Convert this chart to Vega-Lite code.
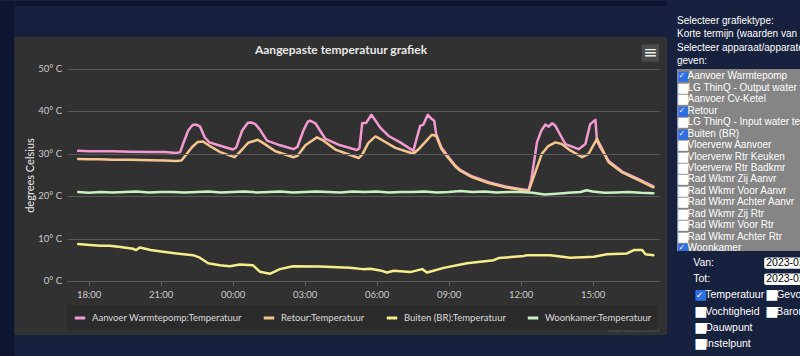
{
  "$schema": "https://vega.github.io/schema/vega-lite/v6.json",
  "background": "#16213e",
  "padding": 0,
  "spacing": 9,
  "config": {"view": {"stroke": null}},
  "hconcat": [
    {
      "width": 592,
      "height": 212,
      "title": {"text": "Aangepaste temperatuur grafiek", "anchor": "middle", "font": "Lato", "fontSize": 12, "fontWeight": "bold", "color": "#e8e8e8", "offset": -56, "dx": -22},
      "layer": [
        {
          "data": {"values": [{}]},
          "mark": {"type": "rect", "color": "#0c1631"},
          "encoding": {
            "x": {"datum": 1677161955000, "type": "temporal"},
            "x2": {"datum": 1677164055000},
            "y": {"datum": 66.04, "type": "quantitative"},
            "y2": {"datum": -17.9}
          }
        },
        {
          "data": {"values": [{}]},
          "mark": {"type": "rect", "color": "#0c1631"},
          "encoding": {
            "x": {"datum": 1677164055000, "type": "temporal"},
            "x2": {"datum": 1677262005000},
            "y": {"datum": 66.04, "type": "quantitative"},
            "y2": {"datum": 64.86}
          }
        },
        {
          "data": {"values": [{}]},
          "mark": {"type": "rect", "color": "#313131"},
          "encoding": {
            "x": {"datum": 1677164055000, "type": "temporal"},
            "x2": {"datum": 1677262005000},
            "y": {"datum": 57.55, "type": "quantitative"},
            "y2": {"datum": -12.74}
          }
        },
        {
          "data": {"values": [{}]},
          "mark": {"type": "point", "shape": "square", "filled": true, "size": 300, "color": "#4b4b4b", "opacity": 1},
          "encoding": {
            "x": {"datum": 1677259455000, "type": "temporal"},
            "y": {"datum": 53.77, "type": "quantitative"}
          }
        },
        {
          "data": {"values": [{}]},
          "mark": {"type": "text", "text": "≡", "font": "DejaVu Sans", "fontSize": 17, "color": "#f0f0f0", "align": "center", "baseline": "middle"},
          "encoding": {
            "x": {"datum": 1677259455000, "type": "temporal"},
            "y": {"datum": 53.77, "type": "quantitative"}
          }
        },
        {
          "data": {"values": [{}]},
          "mark": {"type": "text", "text": "Domoticz.com", "font": "Lato", "fontSize": 8, "color": "#5a5a5a", "align": "right", "baseline": "middle"},
          "encoding": {
            "x": {"datum": 1677260760000, "type": "temporal"},
            "y": {"datum": -11.56, "type": "quantitative"}
          }
        },
        {
          "data": {"values": [
            {"waarde": 0, "label": "0° C"},
            {"waarde": 10, "label": "10° C"},
            {"waarde": 20, "label": "20° C"},
            {"waarde": 30, "label": "30° C"},
            {"waarde": 40, "label": "40° C"},
            {"waarde": 50, "label": "50° C"}
          ]},
          "mark": {"type": "text", "align": "right", "baseline": "middle", "dx": -5, "font": "Lato", "fontSize": 9.5, "color": "#cccccc"},
          "encoding": {
            "x": {"datum": 1677171960000, "type": "temporal"},
            "y": {"field": "waarde", "type": "quantitative"},
            "text": {"field": "label"}
          }
        },
        {
          "data": {"values": [
            {"serie": "Aanvoer Warmtepomp:Temperatuur", "tijd": "2023-02-23T17:34Z", "temperatuur": 30.7},
            {"serie": "Aanvoer Warmtepomp:Temperatuur", "tijd": "2023-02-23T18:00Z", "temperatuur": 30.6},
            {"serie": "Aanvoer Warmtepomp:Temperatuur", "tijd": "2023-02-23T18:29Z", "temperatuur": 30.6},
            {"serie": "Aanvoer Warmtepomp:Temperatuur", "tijd": "2023-02-23T19:00Z", "temperatuur": 30.6},
            {"serie": "Aanvoer Warmtepomp:Temperatuur", "tijd": "2023-02-23T19:44Z", "temperatuur": 30.5},
            {"serie": "Aanvoer Warmtepomp:Temperatuur", "tijd": "2023-02-23T20:34Z", "temperatuur": 30.4},
            {"serie": "Aanvoer Warmtepomp:Temperatuur", "tijd": "2023-02-23T21:10Z", "temperatuur": 30.4},
            {"serie": "Aanvoer Warmtepomp:Temperatuur", "tijd": "2023-02-23T21:39Z", "temperatuur": 30.2},
            {"serie": "Aanvoer Warmtepomp:Temperatuur", "tijd": "2023-02-23T21:49Z", "temperatuur": 30.4},
            {"serie": "Aanvoer Warmtepomp:Temperatuur", "tijd": "2023-02-23T21:56Z", "temperatuur": 32.3},
            {"serie": "Aanvoer Warmtepomp:Temperatuur", "tijd": "2023-02-23T22:09Z", "temperatuur": 35.5},
            {"serie": "Aanvoer Warmtepomp:Temperatuur", "tijd": "2023-02-23T22:20Z", "temperatuur": 36.8},
            {"serie": "Aanvoer Warmtepomp:Temperatuur", "tijd": "2023-02-23T22:29Z", "temperatuur": 36.9},
            {"serie": "Aanvoer Warmtepomp:Temperatuur", "tijd": "2023-02-23T22:39Z", "temperatuur": 36.4},
            {"serie": "Aanvoer Warmtepomp:Temperatuur", "tijd": "2023-02-23T22:50Z", "temperatuur": 33.9},
            {"serie": "Aanvoer Warmtepomp:Temperatuur", "tijd": "2023-02-23T23:02Z", "temperatuur": 32.7},
            {"serie": "Aanvoer Warmtepomp:Temperatuur", "tijd": "2023-02-23T23:29Z", "temperatuur": 31.9},
            {"serie": "Aanvoer Warmtepomp:Temperatuur", "tijd": "2023-02-24T00:01Z", "temperatuur": 31.0},
            {"serie": "Aanvoer Warmtepomp:Temperatuur", "tijd": "2023-02-24T00:09Z", "temperatuur": 31.5},
            {"serie": "Aanvoer Warmtepomp:Temperatuur", "tijd": "2023-02-24T00:24Z", "temperatuur": 35.5},
            {"serie": "Aanvoer Warmtepomp:Temperatuur", "tijd": "2023-02-24T00:38Z", "temperatuur": 37.3},
            {"serie": "Aanvoer Warmtepomp:Temperatuur", "tijd": "2023-02-24T00:47Z", "temperatuur": 37.4},
            {"serie": "Aanvoer Warmtepomp:Temperatuur", "tijd": "2023-02-24T00:57Z", "temperatuur": 37.0},
            {"serie": "Aanvoer Warmtepomp:Temperatuur", "tijd": "2023-02-24T01:09Z", "temperatuur": 35.6},
            {"serie": "Aanvoer Warmtepomp:Temperatuur", "tijd": "2023-02-24T01:26Z", "temperatuur": 33.1},
            {"serie": "Aanvoer Warmtepomp:Temperatuur", "tijd": "2023-02-24T01:59Z", "temperatuur": 32.0},
            {"serie": "Aanvoer Warmtepomp:Temperatuur", "tijd": "2023-02-24T02:32Z", "temperatuur": 31.1},
            {"serie": "Aanvoer Warmtepomp:Temperatuur", "tijd": "2023-02-24T02:42Z", "temperatuur": 31.6},
            {"serie": "Aanvoer Warmtepomp:Temperatuur", "tijd": "2023-02-24T02:57Z", "temperatuur": 35.5},
            {"serie": "Aanvoer Warmtepomp:Temperatuur", "tijd": "2023-02-24T03:08Z", "temperatuur": 37.6},
            {"serie": "Aanvoer Warmtepomp:Temperatuur", "tijd": "2023-02-24T03:14Z", "temperatuur": 37.8},
            {"serie": "Aanvoer Warmtepomp:Temperatuur", "tijd": "2023-02-24T03:27Z", "temperatuur": 37.2},
            {"serie": "Aanvoer Warmtepomp:Temperatuur", "tijd": "2023-02-24T03:52Z", "temperatuur": 33.5},
            {"serie": "Aanvoer Warmtepomp:Temperatuur", "tijd": "2023-02-24T04:29Z", "temperatuur": 32.0},
            {"serie": "Aanvoer Warmtepomp:Temperatuur", "tijd": "2023-02-24T05:11Z", "temperatuur": 30.9},
            {"serie": "Aanvoer Warmtepomp:Temperatuur", "tijd": "2023-02-24T05:17Z", "temperatuur": 31.3},
            {"serie": "Aanvoer Warmtepomp:Temperatuur", "tijd": "2023-02-24T05:24Z", "temperatuur": 37.2},
            {"serie": "Aanvoer Warmtepomp:Temperatuur", "tijd": "2023-02-24T05:34Z", "temperatuur": 37.3},
            {"serie": "Aanvoer Warmtepomp:Temperatuur", "tijd": "2023-02-24T05:47Z", "temperatuur": 39.2},
            {"serie": "Aanvoer Warmtepomp:Temperatuur", "tijd": "2023-02-24T06:09Z", "temperatuur": 36.2},
            {"serie": "Aanvoer Warmtepomp:Temperatuur", "tijd": "2023-02-24T06:30Z", "temperatuur": 34.2},
            {"serie": "Aanvoer Warmtepomp:Temperatuur", "tijd": "2023-02-24T06:59Z", "temperatuur": 32.7},
            {"serie": "Aanvoer Warmtepomp:Temperatuur", "tijd": "2023-02-24T07:32Z", "temperatuur": 30.7},
            {"serie": "Aanvoer Warmtepomp:Temperatuur", "tijd": "2023-02-24T07:41Z", "temperatuur": 33.9},
            {"serie": "Aanvoer Warmtepomp:Temperatuur", "tijd": "2023-02-24T07:49Z", "temperatuur": 36.6},
            {"serie": "Aanvoer Warmtepomp:Temperatuur", "tijd": "2023-02-24T07:57Z", "temperatuur": 36.9},
            {"serie": "Aanvoer Warmtepomp:Temperatuur", "tijd": "2023-02-24T08:08Z", "temperatuur": 39.2},
            {"serie": "Aanvoer Warmtepomp:Temperatuur", "tijd": "2023-02-24T08:18Z", "temperatuur": 38.2},
            {"serie": "Aanvoer Warmtepomp:Temperatuur", "tijd": "2023-02-24T08:24Z", "temperatuur": 37.8},
            {"serie": "Aanvoer Warmtepomp:Temperatuur", "tijd": "2023-02-24T08:29Z", "temperatuur": 34.6},
            {"serie": "Aanvoer Warmtepomp:Temperatuur", "tijd": "2023-02-24T08:42Z", "temperatuur": 31.5},
            {"serie": "Aanvoer Warmtepomp:Temperatuur", "tijd": "2023-02-24T08:56Z", "temperatuur": 29.7},
            {"serie": "Aanvoer Warmtepomp:Temperatuur", "tijd": "2023-02-24T09:17Z", "temperatuur": 27.2},
            {"serie": "Aanvoer Warmtepomp:Temperatuur", "tijd": "2023-02-24T09:29Z", "temperatuur": 26.2},
            {"serie": "Aanvoer Warmtepomp:Temperatuur", "tijd": "2023-02-24T09:58Z", "temperatuur": 24.7},
            {"serie": "Aanvoer Warmtepomp:Temperatuur", "tijd": "2023-02-24T10:40Z", "temperatuur": 23.3},
            {"serie": "Aanvoer Warmtepomp:Temperatuur", "tijd": "2023-02-24T11:22Z", "temperatuur": 22.3},
            {"serie": "Aanvoer Warmtepomp:Temperatuur", "tijd": "2023-02-24T11:59Z", "temperatuur": 21.7},
            {"serie": "Aanvoer Warmtepomp:Temperatuur", "tijd": "2023-02-24T12:20Z", "temperatuur": 21.4},
            {"serie": "Aanvoer Warmtepomp:Temperatuur", "tijd": "2023-02-24T12:27Z", "temperatuur": 24.0},
            {"serie": "Aanvoer Warmtepomp:Temperatuur", "tijd": "2023-02-24T12:41Z", "temperatuur": 32.7},
            {"serie": "Aanvoer Warmtepomp:Temperatuur", "tijd": "2023-02-24T12:52Z", "temperatuur": 35.5},
            {"serie": "Aanvoer Warmtepomp:Temperatuur", "tijd": "2023-02-24T13:02Z", "temperatuur": 36.9},
            {"serie": "Aanvoer Warmtepomp:Temperatuur", "tijd": "2023-02-24T13:10Z", "temperatuur": 36.4},
            {"serie": "Aanvoer Warmtepomp:Temperatuur", "tijd": "2023-02-24T13:19Z", "temperatuur": 37.2},
            {"serie": "Aanvoer Warmtepomp:Temperatuur", "tijd": "2023-02-24T13:27Z", "temperatuur": 36.6},
            {"serie": "Aanvoer Warmtepomp:Temperatuur", "tijd": "2023-02-24T13:39Z", "temperatuur": 34.5},
            {"serie": "Aanvoer Warmtepomp:Temperatuur", "tijd": "2023-02-24T13:52Z", "temperatuur": 32.3},
            {"serie": "Aanvoer Warmtepomp:Temperatuur", "tijd": "2023-02-24T14:25Z", "temperatuur": 31.1},
            {"serie": "Aanvoer Warmtepomp:Temperatuur", "tijd": "2023-02-24T14:42Z", "temperatuur": 32.3},
            {"serie": "Aanvoer Warmtepomp:Temperatuur", "tijd": "2023-02-24T14:54Z", "temperatuur": 37.0},
            {"serie": "Aanvoer Warmtepomp:Temperatuur", "tijd": "2023-02-24T15:07Z", "temperatuur": 38.0},
            {"serie": "Aanvoer Warmtepomp:Temperatuur", "tijd": "2023-02-24T15:11Z", "temperatuur": 33.1},
            {"serie": "Aanvoer Warmtepomp:Temperatuur", "tijd": "2023-02-24T15:19Z", "temperatuur": 31.5},
            {"serie": "Aanvoer Warmtepomp:Temperatuur", "tijd": "2023-02-24T15:40Z", "temperatuur": 28.3},
            {"serie": "Aanvoer Warmtepomp:Temperatuur", "tijd": "2023-02-24T16:14Z", "temperatuur": 25.8},
            {"serie": "Aanvoer Warmtepomp:Temperatuur", "tijd": "2023-02-24T16:55Z", "temperatuur": 24.0},
            {"serie": "Aanvoer Warmtepomp:Temperatuur", "tijd": "2023-02-24T17:32Z", "temperatuur": 22.3},
            {"serie": "Retour:Temperatuur", "tijd": "2023-02-23T17:34Z", "temperatuur": 28.8},
            {"serie": "Retour:Temperatuur", "tijd": "2023-02-23T18:00Z", "temperatuur": 28.7},
            {"serie": "Retour:Temperatuur", "tijd": "2023-02-23T18:29Z", "temperatuur": 28.7},
            {"serie": "Retour:Temperatuur", "tijd": "2023-02-23T19:00Z", "temperatuur": 28.6},
            {"serie": "Retour:Temperatuur", "tijd": "2023-02-23T19:44Z", "temperatuur": 28.6},
            {"serie": "Retour:Temperatuur", "tijd": "2023-02-23T20:34Z", "temperatuur": 28.5},
            {"serie": "Retour:Temperatuur", "tijd": "2023-02-23T21:10Z", "temperatuur": 28.4},
            {"serie": "Retour:Temperatuur", "tijd": "2023-02-23T21:39Z", "temperatuur": 28.3},
            {"serie": "Retour:Temperatuur", "tijd": "2023-02-23T21:52Z", "temperatuur": 28.4},
            {"serie": "Retour:Temperatuur", "tijd": "2023-02-23T22:04Z", "temperatuur": 29.8},
            {"serie": "Retour:Temperatuur", "tijd": "2023-02-23T22:19Z", "temperatuur": 31.6},
            {"serie": "Retour:Temperatuur", "tijd": "2023-02-23T22:33Z", "temperatuur": 32.8},
            {"serie": "Retour:Temperatuur", "tijd": "2023-02-23T22:46Z", "temperatuur": 32.9},
            {"serie": "Retour:Temperatuur", "tijd": "2023-02-23T23:02Z", "temperatuur": 31.9},
            {"serie": "Retour:Temperatuur", "tijd": "2023-02-23T23:29Z", "temperatuur": 30.4},
            {"serie": "Retour:Temperatuur", "tijd": "2023-02-24T00:05Z", "temperatuur": 29.2},
            {"serie": "Retour:Temperatuur", "tijd": "2023-02-24T00:19Z", "temperatuur": 30.5},
            {"serie": "Retour:Temperatuur", "tijd": "2023-02-24T00:39Z", "temperatuur": 32.6},
            {"serie": "Retour:Temperatuur", "tijd": "2023-02-24T01:03Z", "temperatuur": 33.3},
            {"serie": "Retour:Temperatuur", "tijd": "2023-02-24T01:14Z", "temperatuur": 32.7},
            {"serie": "Retour:Temperatuur", "tijd": "2023-02-24T01:47Z", "temperatuur": 30.6},
            {"serie": "Retour:Temperatuur", "tijd": "2023-02-24T02:32Z", "temperatuur": 29.2},
            {"serie": "Retour:Temperatuur", "tijd": "2023-02-24T02:42Z", "temperatuur": 29.5},
            {"serie": "Retour:Temperatuur", "tijd": "2023-02-24T03:02Z", "temperatuur": 32.0},
            {"serie": "Retour:Temperatuur", "tijd": "2023-02-24T03:31Z", "temperatuur": 33.9},
            {"serie": "Retour:Temperatuur", "tijd": "2023-02-24T03:44Z", "temperatuur": 33.3},
            {"serie": "Retour:Temperatuur", "tijd": "2023-02-24T04:17Z", "temperatuur": 31.0},
            {"serie": "Retour:Temperatuur", "tijd": "2023-02-24T05:15Z", "temperatuur": 29.0},
            {"serie": "Retour:Temperatuur", "tijd": "2023-02-24T05:24Z", "temperatuur": 29.8},
            {"serie": "Retour:Temperatuur", "tijd": "2023-02-24T05:39Z", "temperatuur": 32.5},
            {"serie": "Retour:Temperatuur", "tijd": "2023-02-24T05:57Z", "temperatuur": 34.1},
            {"serie": "Retour:Temperatuur", "tijd": "2023-02-24T06:09Z", "temperatuur": 33.5},
            {"serie": "Retour:Temperatuur", "tijd": "2023-02-24T06:47Z", "temperatuur": 31.4},
            {"serie": "Retour:Temperatuur", "tijd": "2023-02-24T07:32Z", "temperatuur": 30.0},
            {"serie": "Retour:Temperatuur", "tijd": "2023-02-24T07:44Z", "temperatuur": 31.0},
            {"serie": "Retour:Temperatuur", "tijd": "2023-02-24T08:02Z", "temperatuur": 32.8},
            {"serie": "Retour:Temperatuur", "tijd": "2023-02-24T08:18Z", "temperatuur": 34.5},
            {"serie": "Retour:Temperatuur", "tijd": "2023-02-24T08:29Z", "temperatuur": 34.2},
            {"serie": "Retour:Temperatuur", "tijd": "2023-02-24T08:42Z", "temperatuur": 31.2},
            {"serie": "Retour:Temperatuur", "tijd": "2023-02-24T08:56Z", "temperatuur": 29.4},
            {"serie": "Retour:Temperatuur", "tijd": "2023-02-24T09:17Z", "temperatuur": 27.0},
            {"serie": "Retour:Temperatuur", "tijd": "2023-02-24T09:29Z", "temperatuur": 26.0},
            {"serie": "Retour:Temperatuur", "tijd": "2023-02-24T09:58Z", "temperatuur": 24.5},
            {"serie": "Retour:Temperatuur", "tijd": "2023-02-24T10:40Z", "temperatuur": 23.1},
            {"serie": "Retour:Temperatuur", "tijd": "2023-02-24T11:22Z", "temperatuur": 22.1},
            {"serie": "Retour:Temperatuur", "tijd": "2023-02-24T11:59Z", "temperatuur": 21.5},
            {"serie": "Retour:Temperatuur", "tijd": "2023-02-24T12:20Z", "temperatuur": 21.2},
            {"serie": "Retour:Temperatuur", "tijd": "2023-02-24T12:32Z", "temperatuur": 24.4},
            {"serie": "Retour:Temperatuur", "tijd": "2023-02-24T12:53Z", "temperatuur": 30.0},
            {"serie": "Retour:Temperatuur", "tijd": "2023-02-24T13:09Z", "temperatuur": 31.8},
            {"serie": "Retour:Temperatuur", "tijd": "2023-02-24T13:27Z", "temperatuur": 32.7},
            {"serie": "Retour:Temperatuur", "tijd": "2023-02-24T13:43Z", "temperatuur": 32.3},
            {"serie": "Retour:Temperatuur", "tijd": "2023-02-24T14:04Z", "temperatuur": 30.8},
            {"serie": "Retour:Temperatuur", "tijd": "2023-02-24T14:34Z", "temperatuur": 29.2},
            {"serie": "Retour:Temperatuur", "tijd": "2023-02-24T14:50Z", "temperatuur": 30.0},
            {"serie": "Retour:Temperatuur", "tijd": "2023-02-24T14:59Z", "temperatuur": 31.5},
            {"serie": "Retour:Temperatuur", "tijd": "2023-02-24T15:11Z", "temperatuur": 33.5},
            {"serie": "Retour:Temperatuur", "tijd": "2023-02-24T15:24Z", "temperatuur": 31.1},
            {"serie": "Retour:Temperatuur", "tijd": "2023-02-24T15:40Z", "temperatuur": 28.0},
            {"serie": "Retour:Temperatuur", "tijd": "2023-02-24T16:14Z", "temperatuur": 25.6},
            {"serie": "Retour:Temperatuur", "tijd": "2023-02-24T16:55Z", "temperatuur": 23.8},
            {"serie": "Retour:Temperatuur", "tijd": "2023-02-24T17:32Z", "temperatuur": 22.1},
            {"serie": "Buiten (BR):Temperatuur", "tijd": "2023-02-23T17:34Z", "temperatuur": 8.7},
            {"serie": "Buiten (BR):Temperatuur", "tijd": "2023-02-23T18:03Z", "temperatuur": 8.5},
            {"serie": "Buiten (BR):Temperatuur", "tijd": "2023-02-23T18:30Z", "temperatuur": 8.3},
            {"serie": "Buiten (BR):Temperatuur", "tijd": "2023-02-23T18:52Z", "temperatuur": 8.3},
            {"serie": "Buiten (BR):Temperatuur", "tijd": "2023-02-23T19:20Z", "temperatuur": 8.0},
            {"serie": "Buiten (BR):Temperatuur", "tijd": "2023-02-23T19:51Z", "temperatuur": 7.6},
            {"serie": "Buiten (BR):Temperatuur", "tijd": "2023-02-23T19:59Z", "temperatuur": 7.3},
            {"serie": "Buiten (BR):Temperatuur", "tijd": "2023-02-23T20:08Z", "temperatuur": 7.9},
            {"serie": "Buiten (BR):Temperatuur", "tijd": "2023-02-23T20:35Z", "temperatuur": 7.3},
            {"serie": "Buiten (BR):Temperatuur", "tijd": "2023-02-23T21:06Z", "temperatuur": 6.9},
            {"serie": "Buiten (BR):Temperatuur", "tijd": "2023-02-23T21:40Z", "temperatuur": 6.5},
            {"serie": "Buiten (BR):Temperatuur", "tijd": "2023-02-23T22:21Z", "temperatuur": 6.1},
            {"serie": "Buiten (BR):Temperatuur", "tijd": "2023-02-23T22:38Z", "temperatuur": 5.5},
            {"serie": "Buiten (BR):Temperatuur", "tijd": "2023-02-23T22:59Z", "temperatuur": 4.2},
            {"serie": "Buiten (BR):Temperatuur", "tijd": "2023-02-23T23:28Z", "temperatuur": 3.7},
            {"serie": "Buiten (BR):Temperatuur", "tijd": "2023-02-23T23:53Z", "temperatuur": 3.5},
            {"serie": "Buiten (BR):Temperatuur", "tijd": "2023-02-24T00:18Z", "temperatuur": 3.9},
            {"serie": "Buiten (BR):Temperatuur", "tijd": "2023-02-24T00:51Z", "temperatuur": 3.7},
            {"serie": "Buiten (BR):Temperatuur", "tijd": "2023-02-24T01:08Z", "temperatuur": 2.2},
            {"serie": "Buiten (BR):Temperatuur", "tijd": "2023-02-24T01:33Z", "temperatuur": 1.7},
            {"serie": "Buiten (BR):Temperatuur", "tijd": "2023-02-24T01:58Z", "temperatuur": 2.8},
            {"serie": "Buiten (BR):Temperatuur", "tijd": "2023-02-24T02:31Z", "temperatuur": 3.5},
            {"serie": "Buiten (BR):Temperatuur", "tijd": "2023-02-24T03:38Z", "temperatuur": 3.4},
            {"serie": "Buiten (BR):Temperatuur", "tijd": "2023-02-24T04:53Z", "temperatuur": 3.1},
            {"serie": "Buiten (BR):Temperatuur", "tijd": "2023-02-24T05:26Z", "temperatuur": 2.8},
            {"serie": "Buiten (BR):Temperatuur", "tijd": "2023-02-24T05:44Z", "temperatuur": 2.9},
            {"serie": "Buiten (BR):Temperatuur", "tijd": "2023-02-24T06:09Z", "temperatuur": 2.5},
            {"serie": "Buiten (BR):Temperatuur", "tijd": "2023-02-24T06:26Z", "temperatuur": 2.0},
            {"serie": "Buiten (BR):Temperatuur", "tijd": "2023-02-24T06:43Z", "temperatuur": 2.4},
            {"serie": "Buiten (BR):Temperatuur", "tijd": "2023-02-24T07:24Z", "temperatuur": 2.1},
            {"serie": "Buiten (BR):Temperatuur", "tijd": "2023-02-24T07:54Z", "temperatuur": 2.8},
            {"serie": "Buiten (BR):Temperatuur", "tijd": "2023-02-24T08:06Z", "temperatuur": 2.0},
            {"serie": "Buiten (BR):Temperatuur", "tijd": "2023-02-24T08:48Z", "temperatuur": 3.1},
            {"serie": "Buiten (BR):Temperatuur", "tijd": "2023-02-24T09:46Z", "temperatuur": 4.2},
            {"serie": "Buiten (BR):Temperatuur", "tijd": "2023-02-24T10:53Z", "temperatuur": 4.9},
            {"serie": "Buiten (BR):Temperatuur", "tijd": "2023-02-24T11:05Z", "temperatuur": 5.4},
            {"serie": "Buiten (BR):Temperatuur", "tijd": "2023-02-24T12:08Z", "temperatuur": 5.9},
            {"serie": "Buiten (BR):Temperatuur", "tijd": "2023-02-24T12:16Z", "temperatuur": 6.1},
            {"serie": "Buiten (BR):Temperatuur", "tijd": "2023-02-24T13:14Z", "temperatuur": 6.1},
            {"serie": "Buiten (BR):Temperatuur", "tijd": "2023-02-24T14:04Z", "temperatuur": 5.5},
            {"serie": "Buiten (BR):Temperatuur", "tijd": "2023-02-24T15:03Z", "temperatuur": 5.7},
            {"serie": "Buiten (BR):Temperatuur", "tijd": "2023-02-24T15:36Z", "temperatuur": 6.3},
            {"serie": "Buiten (BR):Temperatuur", "tijd": "2023-02-24T16:26Z", "temperatuur": 6.5},
            {"serie": "Buiten (BR):Temperatuur", "tijd": "2023-02-24T16:43Z", "temperatuur": 7.3},
            {"serie": "Buiten (BR):Temperatuur", "tijd": "2023-02-24T17:04Z", "temperatuur": 7.3},
            {"serie": "Buiten (BR):Temperatuur", "tijd": "2023-02-24T17:12Z", "temperatuur": 6.3},
            {"serie": "Buiten (BR):Temperatuur", "tijd": "2023-02-24T17:32Z", "temperatuur": 6.1},
            {"serie": "Woonkamer:Temperatuur", "tijd": "2023-02-23T17:34Z", "temperatuur": 21.0},
            {"serie": "Woonkamer:Temperatuur", "tijd": "2023-02-23T18:00Z", "temperatuur": 20.8},
            {"serie": "Woonkamer:Temperatuur", "tijd": "2023-02-23T18:30Z", "temperatuur": 21.0},
            {"serie": "Woonkamer:Temperatuur", "tijd": "2023-02-23T19:00Z", "temperatuur": 20.9},
            {"serie": "Woonkamer:Temperatuur", "tijd": "2023-02-23T19:30Z", "temperatuur": 21.0},
            {"serie": "Woonkamer:Temperatuur", "tijd": "2023-02-23T20:00Z", "temperatuur": 21.1},
            {"serie": "Woonkamer:Temperatuur", "tijd": "2023-02-23T20:30Z", "temperatuur": 20.9},
            {"serie": "Woonkamer:Temperatuur", "tijd": "2023-02-23T21:00Z", "temperatuur": 21.0},
            {"serie": "Woonkamer:Temperatuur", "tijd": "2023-02-23T21:30Z", "temperatuur": 21.0},
            {"serie": "Woonkamer:Temperatuur", "tijd": "2023-02-23T22:00Z", "temperatuur": 20.9},
            {"serie": "Woonkamer:Temperatuur", "tijd": "2023-02-23T22:30Z", "temperatuur": 21.0},
            {"serie": "Woonkamer:Temperatuur", "tijd": "2023-02-23T23:00Z", "temperatuur": 21.1},
            {"serie": "Woonkamer:Temperatuur", "tijd": "2023-02-23T23:30Z", "temperatuur": 20.9},
            {"serie": "Woonkamer:Temperatuur", "tijd": "2023-02-24T00:00Z", "temperatuur": 21.0},
            {"serie": "Woonkamer:Temperatuur", "tijd": "2023-02-24T00:30Z", "temperatuur": 21.1},
            {"serie": "Woonkamer:Temperatuur", "tijd": "2023-02-24T01:00Z", "temperatuur": 20.9},
            {"serie": "Woonkamer:Temperatuur", "tijd": "2023-02-24T01:30Z", "temperatuur": 21.0},
            {"serie": "Woonkamer:Temperatuur", "tijd": "2023-02-24T02:00Z", "temperatuur": 21.1},
            {"serie": "Woonkamer:Temperatuur", "tijd": "2023-02-24T02:30Z", "temperatuur": 20.9},
            {"serie": "Woonkamer:Temperatuur", "tijd": "2023-02-24T03:00Z", "temperatuur": 21.0},
            {"serie": "Woonkamer:Temperatuur", "tijd": "2023-02-24T03:30Z", "temperatuur": 21.1},
            {"serie": "Woonkamer:Temperatuur", "tijd": "2023-02-24T04:00Z", "temperatuur": 21.0},
            {"serie": "Woonkamer:Temperatuur", "tijd": "2023-02-24T04:30Z", "temperatuur": 20.9},
            {"serie": "Woonkamer:Temperatuur", "tijd": "2023-02-24T05:00Z", "temperatuur": 21.1},
            {"serie": "Woonkamer:Temperatuur", "tijd": "2023-02-24T05:30Z", "temperatuur": 21.0},
            {"serie": "Woonkamer:Temperatuur", "tijd": "2023-02-24T06:00Z", "temperatuur": 21.1},
            {"serie": "Woonkamer:Temperatuur", "tijd": "2023-02-24T06:30Z", "temperatuur": 20.9},
            {"serie": "Woonkamer:Temperatuur", "tijd": "2023-02-24T07:00Z", "temperatuur": 21.0},
            {"serie": "Woonkamer:Temperatuur", "tijd": "2023-02-24T07:30Z", "temperatuur": 21.0},
            {"serie": "Woonkamer:Temperatuur", "tijd": "2023-02-24T08:00Z", "temperatuur": 21.1},
            {"serie": "Woonkamer:Temperatuur", "tijd": "2023-02-24T08:30Z", "temperatuur": 20.9},
            {"serie": "Woonkamer:Temperatuur", "tijd": "2023-02-24T09:00Z", "temperatuur": 21.0},
            {"serie": "Woonkamer:Temperatuur", "tijd": "2023-02-24T09:30Z", "temperatuur": 21.2},
            {"serie": "Woonkamer:Temperatuur", "tijd": "2023-02-24T10:00Z", "temperatuur": 21.0},
            {"serie": "Woonkamer:Temperatuur", "tijd": "2023-02-24T10:30Z", "temperatuur": 21.1},
            {"serie": "Woonkamer:Temperatuur", "tijd": "2023-02-24T11:00Z", "temperatuur": 20.9},
            {"serie": "Woonkamer:Temperatuur", "tijd": "2023-02-24T11:30Z", "temperatuur": 21.0},
            {"serie": "Woonkamer:Temperatuur", "tijd": "2023-02-24T12:00Z", "temperatuur": 21.0},
            {"serie": "Woonkamer:Temperatuur", "tijd": "2023-02-24T12:30Z", "temperatuur": 20.8},
            {"serie": "Woonkamer:Temperatuur", "tijd": "2023-02-24T13:00Z", "temperatuur": 20.4},
            {"serie": "Woonkamer:Temperatuur", "tijd": "2023-02-24T13:30Z", "temperatuur": 20.6},
            {"serie": "Woonkamer:Temperatuur", "tijd": "2023-02-24T14:00Z", "temperatuur": 20.8},
            {"serie": "Woonkamer:Temperatuur", "tijd": "2023-02-24T14:30Z", "temperatuur": 21.0},
            {"serie": "Woonkamer:Temperatuur", "tijd": "2023-02-24T14:45Z", "temperatuur": 21.4},
            {"serie": "Woonkamer:Temperatuur", "tijd": "2023-02-24T15:00Z", "temperatuur": 21.1},
            {"serie": "Woonkamer:Temperatuur", "tijd": "2023-02-24T15:30Z", "temperatuur": 20.8},
            {"serie": "Woonkamer:Temperatuur", "tijd": "2023-02-24T16:00Z", "temperatuur": 20.9},
            {"serie": "Woonkamer:Temperatuur", "tijd": "2023-02-24T16:30Z", "temperatuur": 21.0},
            {"serie": "Woonkamer:Temperatuur", "tijd": "2023-02-24T17:00Z", "temperatuur": 20.8},
            {"serie": "Woonkamer:Temperatuur", "tijd": "2023-02-24T17:32Z", "temperatuur": 20.7}
          ]},
          "mark": {"type": "line", "strokeWidth": 2.5, "strokeJoin": "round", "strokeCap": "round"},
          "encoding": {
            "x": {
              "field": "tijd", "type": "temporal",
              "scale": {"type": "utc", "domain": [1677171960000, 1677260760000]},
              "axis": {"title": null, "grid": false, "tickCount": 8, "format": "%H:%M", "domainColor": "#5c5c5c", "tickColor": "#5c5c5c", "tickSize": 5, "labelPadding": 3, "labelColor": "#cccccc", "labelFont": "Lato", "labelFontSize": 9.5, "labelFlush": false, "zindex": 1}
            },
            "y": {
              "field": "temperatuur", "type": "quantitative",
              "scale": {"domain": [0, 50], "nice": false, "zero": false},
              "axis": {"title": "degrees Celsius", "values": [0, 10, 20, 30, 40, 50], "labels": false, "ticks": false, "domain": false, "grid": true, "gridColor": "#585858", "titleFont": "Lato", "titleFontSize": 11, "titleFontWeight": "normal", "titleColor": "#e8e8e8", "titlePadding": 32, "zindex": 1}
            },
            "color": {
              "field": "serie", "type": "nominal",
              "scale": {"domain": ["Aanvoer Warmtepomp:Temperatuur", "Retour:Temperatuur", "Buiten (BR):Temperatuur", "Woonkamer:Temperatuur"], "range": ["#f49ad3", "#f5c58e", "#f5ee8a", "#c8f2c0"]},
              "legend": {"title": null, "orient": "bottom", "direction": "horizontal", "symbolType": "stroke", "symbolStrokeWidth": 3, "symbolSize": 110, "labelFont": "Lato", "labelFontSize": 9.5, "labelColor": "#dcdcdc", "fillColor": "#2b2b2b", "padding": 6, "columnPadding": 15, "offset": -52, "labelOffset": 5, "labelLimit": 400}
            }
          }
        }
      ]
    },
    {
      "spacing": 4,
      "vconcat": [
        {
          "width": 160,
          "height": 182,
          "view": {"fill": "#858585", "stroke": null},
          "title": {"text": ["Selecteer grafiektype:", "Korte termijn (waarden van", "Selecteer apparaat/apparaten om weer te", "geven:"], "anchor": "start", "frame": "group", "font": "Liberation Sans", "fontSize": 10, "fontWeight": "normal", "color": "#ffffff", "lineHeight": 13.3, "offset": 3},
          "data": {"values": [
            {"apparaat": "Aanvoer Warmtepomp", "aan": true},
            {"apparaat": "LG ThinQ - Output water temperatuur", "aan": false},
            {"apparaat": "Aanvoer Cv-Ketel", "aan": false},
            {"apparaat": "Retour", "aan": true},
            {"apparaat": "LG ThinQ - Input water temperatuur", "aan": false},
            {"apparaat": "Buiten (BR)", "aan": true},
            {"apparaat": "Vloerverw Aanvoer", "aan": false},
            {"apparaat": "Vloerverw Rtr Keuken", "aan": false},
            {"apparaat": "Vloerverw Rtr Badkmr", "aan": false},
            {"apparaat": "Rad Wkmr Zij Aanvr", "aan": false},
            {"apparaat": "Rad Wkmr Voor Aanvr", "aan": false},
            {"apparaat": "Rad Wkmr Achter Aanvr", "aan": false},
            {"apparaat": "Rad Wkmr Zij Rtr", "aan": false},
            {"apparaat": "Rad Wkmr Voor Rtr", "aan": false},
            {"apparaat": "Rad Wkmr Achter Rtr", "aan": false},
            {"apparaat": "Woonkamer", "aan": true}
          ]},
          "encoding": {
            "y": {"field": "apparaat", "type": "ordinal", "sort": null, "axis": null, "scale": {"type": "point", "padding": 0.4476, "align": 0.722}},
            "x": {"datum": 0, "type": "quantitative", "scale": {"domain": [0, 1]}, "axis": null}
          },
          "layer": [
            {"mark": {"type": "text", "text": "■", "align": "left", "baseline": "middle", "font": "DejaVu Sans", "fontSize": 13, "dx": 0, "clip": true},
             "encoding": {"color": {"condition": {"test": "datum.aan", "value": "#2f6fe4"}, "value": "#ffffff"}}},
            {"transform": [{"filter": "datum.aan"}],
             "mark": {"type": "text", "text": "✓", "align": "left", "baseline": "middle", "font": "DejaVu Sans", "fontSize": 8, "dx": 1.5, "color": "#ffffff", "clip": true}},
            {"mark": {"type": "text", "align": "left", "baseline": "middle", "font": "Liberation Sans", "fontSize": 10, "dx": 10.5, "color": "#ffffff", "clip": true},
             "encoding": {"text": {"field": "apparaat"}}}
          ]
        },
        {
          "width": 160,
          "height": 97,
          "data": {"values": [
            {"rij": 1, "kolom": 1, "soort": "label", "tekst": "Van:", "aan": false},
            {"rij": 1, "kolom": 2, "soort": "invoer", "tekst": "2023-02-23", "aan": false},
            {"rij": 2, "kolom": 1, "soort": "label", "tekst": "Tot:", "aan": false},
            {"rij": 2, "kolom": 2, "soort": "invoer", "tekst": "2023-02-24", "aan": false},
            {"rij": 3, "kolom": 1, "soort": "vink", "tekst": "Temperatuur", "aan": true},
            {"rij": 3, "kolom": 2, "soort": "vink", "tekst": "Gevoelstemperatuur", "aan": false},
            {"rij": 4, "kolom": 1, "soort": "vink", "tekst": "Vochtigheid", "aan": false},
            {"rij": 4, "kolom": 2, "soort": "vink", "tekst": "Barometer", "aan": false},
            {"rij": 5, "kolom": 1, "soort": "vink", "tekst": "Dauwpunt", "aan": false},
            {"rij": 6, "kolom": 1, "soort": "vink", "tekst": "Instelpunt", "aan": false}
          ]},
          "encoding": {
            "y": {"field": "rij", "type": "ordinal", "axis": null, "scale": {"paddingInner": 0.3, "paddingOuter": 0.15}},
            "x": {"field": "kolom", "type": "ordinal", "axis": null, "scale": {"paddingInner": 0, "paddingOuter": 0.1268, "align": 0.9}}
          },
          "layer": [
            {"transform": [{"filter": "datum.soort == 'invoer'"}],
             "mark": {"type": "rect", "color": "#ffffff", "cornerRadius": 2}},
            {"transform": [{"filter": "datum.soort == 'invoer'"}],
             "mark": {"type": "text", "align": "left", "baseline": "middle", "dx": 2, "font": "Liberation Sans", "fontSize": 10.5, "color": "#000000"},
             "encoding": {"x": {"field": "kolom", "type": "ordinal", "bandPosition": 0}, "text": {"field": "tekst"}}},
            {"transform": [{"filter": "datum.soort == 'label'"}],
             "mark": {"type": "text", "align": "left", "baseline": "middle", "dx": 0, "font": "Liberation Sans", "fontSize": 10.5, "color": "#ffffff"},
             "encoding": {"x": {"field": "kolom", "type": "ordinal", "bandPosition": 0}, "text": {"field": "tekst"}}},
            {"transform": [{"filter": "datum.soort == 'vink'"}],
             "mark": {"type": "text", "text": "■", "align": "left", "baseline": "middle", "dx": 1, "font": "DejaVu Sans", "fontSize": 14},
             "encoding": {"x": {"field": "kolom", "type": "ordinal", "bandPosition": 0}, "color": {"condition": {"test": "datum.aan", "value": "#2f6fe4"}, "value": "#ffffff"}}},
            {"transform": [{"filter": "datum.soort == 'vink' && datum.aan"}],
             "mark": {"type": "text", "text": "✓", "align": "left", "baseline": "middle", "dx": 2.5, "font": "DejaVu Sans", "fontSize": 9, "color": "#ffffff"},
             "encoding": {"x": {"field": "kolom", "type": "ordinal", "bandPosition": 0}}},
            {"transform": [{"filter": "datum.soort == 'vink'"}],
             "mark": {"type": "text", "align": "left", "baseline": "middle", "dx": 12, "font": "Liberation Sans", "fontSize": 10.5, "color": "#ffffff"},
             "encoding": {"x": {"field": "kolom", "type": "ordinal", "bandPosition": 0}, "text": {"field": "tekst"}}}
          ]
        }
      ]
    }
  ]
}
